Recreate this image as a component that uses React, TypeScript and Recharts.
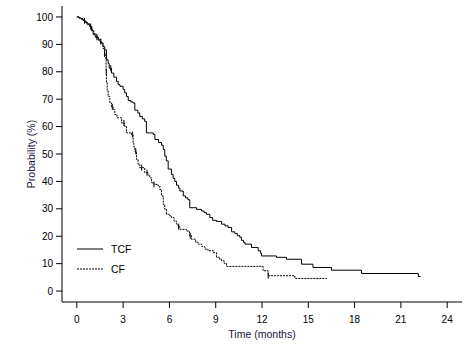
import React from 'react';
import { LineChart, Line, XAxis, YAxis, Legend } from 'recharts';

// survival steps: [time in months, probability % after the step]
const tcfSteps: [number, number][] = [
  [0, 100], [0.15, 99.6], [0.3, 99.1], [0.45, 98.6], [0.52, 98.2], [0.65, 97.5], [0.84, 96.5],
  [0.95, 95], [1.06, 93.5], [1.2, 92.6], [1.38, 91.6], [1.5, 91], [1.6, 90.4], [1.7, 89.2],
  [1.81, 88], [1.92, 84.4], [2.03, 83], [2.1, 81.3], [2.25, 79.5], [2.4, 78], [2.57, 76.5],
  [2.68, 75.3], [2.8, 74.7], [3.0, 73.5], [3.1, 72.3], [3.22, 71], [3.33, 69.5], [3.5, 69],
  [3.65, 68.6], [3.76, 66], [3.95, 65], [4.08, 63.7], [4.25, 62.8], [4.4, 61.9], [4.51, 57.7],
  [4.95, 57.1], [5.06, 55.3], [5.3, 54.2], [5.49, 53.2], [5.6, 51.6], [5.7, 49.2], [5.8, 47.5],
  [5.92, 44.5], [6.13, 42.5], [6.24, 41.1], [6.35, 40], [6.46, 38.6], [6.6, 37.5], [6.68, 36.5],
  [6.9, 34.7], [7.05, 34], [7.2, 33.3], [7.32, 30.4], [7.76, 29.8], [8.08, 29.2], [8.25, 28.6],
  [8.4, 28], [8.62, 26.8], [8.8, 25.8], [9.05, 25.4], [9.38, 24.4], [9.6, 23.8], [9.8, 23.2],
  [10.03, 21.6], [10.24, 21], [10.4, 20.2], [10.56, 19.6], [10.67, 18.5], [10.8, 17.8],
  [10.9, 17.1], [11.32, 15.9], [11.75, 14.7], [11.9, 13.8], [11.97, 12.8], [12.94, 12.3],
  [13.59, 11.6], [14.56, 9.8], [15.3, 8.6], [16.5, 7.6], [18.45, 6.4], [22.13, 5.3], [22.27, 5.3],
];

const cfSteps: [number, number][] = [
  [0, 100], [0.2, 99.4], [0.4, 98.8], [0.55, 98], [0.7, 97.2], [0.85, 96.3], [1.0, 95],
  [1.1, 94], [1.25, 92.8], [1.4, 91.8], [1.55, 90.5], [1.7, 88.5], [1.8, 86.5], [1.88, 84.4],
  [1.9, 80], [1.92, 76], [1.97, 73], [2.03, 71], [2.14, 68.6], [2.25, 67.2], [2.35, 66.2],
  [2.46, 64.4], [2.6, 63.2], [2.9, 61.3], [3.1, 60.1], [3.22, 57.7], [3.54, 57.1], [3.65, 54],
  [3.7, 52.5], [3.76, 51], [3.87, 48], [3.97, 46.2], [4.08, 45], [4.4, 43.2], [4.62, 42.2],
  [4.73, 41.3], [4.84, 39.5], [5.0, 38.9], [5.27, 38.3], [5.38, 37], [5.49, 34.7], [5.6, 31.6],
  [5.7, 29.8], [5.81, 28], [6.03, 27.4], [6.14, 26.8], [6.3, 25.5], [6.46, 24.4], [6.57, 23.5],
  [6.68, 22.5], [7.1, 21.9], [7.3, 20.2], [7.43, 18.9], [7.7, 17.8], [7.86, 17.1], [8.1, 16.2],
  [8.3, 15.3], [8.5, 14.7], [8.84, 14], [9.05, 12.3], [9.25, 11.6], [9.38, 11], [9.55, 10.1],
  [9.7, 9.0], [12.07, 7.4], [12.4, 5.6], [14.13, 4.6], [16.2, 4.6],
];

// censoring times (drawn as small + marks)
const tcfCensored = [0.5, 0.9, 1.3, 1.55, 2.2];
const cfCensored = [1.8, 1.91, 2.3, 3.05, 3.6, 3.82, 4.2, 4.55, 5.0, 6.6, 7.35, 12.4];

const xTicks = [0, 3, 6, 9, 12, 15, 18, 21, 24];
const yTicks = [0, 10, 20, 30, 40, 50, 60, 70, 80, 90, 100];

const series = [
  { name: 'TCF', dash: undefined },
  { name: 'CF', dash: '2 1' },
];

const FONT = '"Liberation Sans", Arial, sans-serif';

type Row = { t: number; v: number; c: boolean };

function buildRows(steps: [number, number][], censored: number[]): Row[] {
  const rows: Row[] = steps.map(([t, v]) => ({ t, v, c: false }));
  censored.forEach((ct) => {
    let v = steps[0][1];
    steps.forEach(([t, sv]) => {
      if (t <= ct) v = sv;
    });
    rows.push({ t: ct, v, c: true });
  });
  return rows.sort((a, b) => a.t - b.t);
}

const tcfData = buildRows(tcfSteps, tcfCensored);
const cfData = buildRows(cfSteps, cfCensored);

const censorMark = (props: any) => {
  const { cx, cy, payload, index } = props;
  if (!payload || !payload.c) return <g key={index} />;
  return <line key={index} x1={cx} x2={cx} y1={cy - 3} y2={cy + 3} stroke="#000" strokeWidth={1} />;
};

const renderLegend = () => (
  <div style={{ fontFamily: FONT, fontSize: 10.5, color: '#000' }}>
    {series.map((s) => (
      <div key={s.name} style={{ display: 'flex', alignItems: 'center', height: 20 }}>
        <svg width={26} height={6}>
          <line x1={0} x2={26} y1={3} y2={3} stroke="#000" strokeWidth={1} strokeDasharray={s.dash} />
        </svg>
        <span style={{ marginLeft: 8 }}>{s.name}</span>
      </div>
    ))}
  </div>
);

const App: React.FC = () => {
  return (
    <div style={{ position: 'absolute', left: 0, top: 0, width: 471, height: 345, background: '#fff' }}>
      <LineChart width={471} height={345} margin={{ top: 6, right: 9, bottom: 0, left: 0 }}>
        <XAxis
          type="number"
          dataKey="t"
          domain={[-0.96, 24.96]}
          ticks={xTicks}
          allowDataOverflow
          height={43}
          tickSize={6}
          tickMargin={8}
          stroke="#000"
          tick={{ fontSize: 10, fill: '#000', fontFamily: FONT }}
          label={{ value: 'Time (months)', position: 'insideBottom', offset: 7, fontSize: 10.5, fill: '#1c1440', fontFamily: FONT }}
        />
        <YAxis
          type="number"
          dataKey="v"
          domain={[-4, 104]}
          ticks={yTicks}
          allowDataOverflow
          width={62}
          tickSize={6}
          tickMargin={3}
          stroke="#000"
          tick={{ fontSize: 10, fill: '#000', fontFamily: FONT }}
          label={{ value: 'Probability (%)', angle: -90, position: 'center', dx: 0, fontSize: 10.5, fill: '#1c1440', fontFamily: FONT }}
        />
        <Legend
          layout="vertical"
          align="center"
          verticalAlign="middle"
          content={renderLegend}
          wrapperStyle={{ left: 77, top: 239, width: 'auto' }}
        />
        <Line
          data={tcfData}
          dataKey="v"
          name="TCF"
          type="stepAfter"
          stroke="#000"
          strokeWidth={1}
          dot={censorMark}
          activeDot={false}
          isAnimationActive={false}
        />
        <Line
          data={cfData}
          dataKey="v"
          name="CF"
          type="stepAfter"
          stroke="#000"
          strokeWidth={1}
          strokeDasharray="2 1"
          dot={censorMark}
          activeDot={false}
          isAnimationActive={false}
        />
      </LineChart>
    </div>
  );
};

export default App;
